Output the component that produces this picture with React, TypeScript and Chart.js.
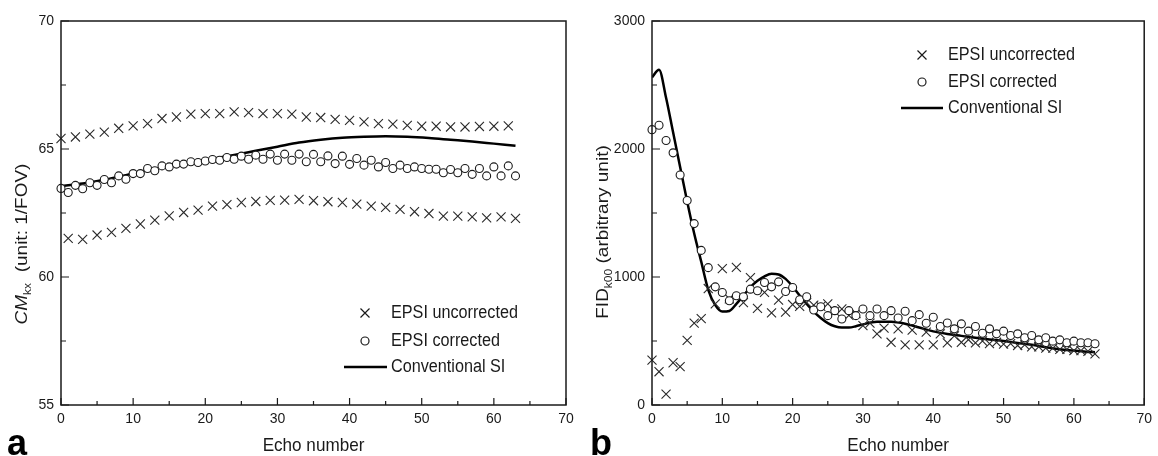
import React, { useEffect, useRef } from "react";
import { Chart, registerables } from "chart.js";

Chart.register(...registerables);

// ---------- data ----------
const echoNumbers = [
  0, 1, 2, 3, 4, 5, 6, 7, 8, 9, 10, 11, 12, 13, 14, 15, 16, 17, 18, 19, 20, 21,
  22, 23, 24, 25, 26, 27, 28, 29, 30, 31, 32, 33, 34, 35, 36, 37, 38, 39, 40, 41,
  42, 43, 44, 45, 46, 47, 48, 49, 50, 51, 52, 53, 54, 55, 56, 57, 58, 59, 60, 61,
  62, 63,
];

// panel a: CM_kx
const cmUncorrected = [
  65.41, 61.51, 65.47, 61.47, 65.58, 61.64, 65.66, 61.74, 65.81, 61.9, 65.9,
  62.07, 65.99, 62.22, 66.19, 62.39, 66.25, 62.52, 66.36, 62.61, 66.38, 62.77,
  66.38, 62.83, 66.45, 62.91, 66.42, 62.95, 66.38, 62.99, 66.38, 63.0, 66.36,
  63.03, 66.25, 62.98, 66.23, 62.94, 66.16, 62.91, 66.12, 62.85, 66.06, 62.77,
  65.99, 62.72, 65.97, 62.64, 65.92, 62.55, 65.89, 62.48, 65.89, 62.38, 65.86,
  62.38, 65.86, 62.35, 65.88, 62.31, 65.89, 62.35, 65.9, 62.29,
];
const cmCorrected = [
  63.46, 63.3, 63.58, 63.45, 63.68, 63.58, 63.81, 63.68, 63.95, 63.82, 64.04,
  64.04, 64.24, 64.15, 64.34, 64.3, 64.41, 64.41, 64.5, 64.47, 64.53, 64.59,
  64.56, 64.67, 64.6, 64.72, 64.6, 64.76, 64.6, 64.8, 64.56, 64.8, 64.56, 64.8,
  64.5, 64.79, 64.5, 64.73, 64.43, 64.72, 64.4, 64.63, 64.37, 64.56, 64.3,
  64.47, 64.24, 64.37, 64.24, 64.3, 64.24, 64.21, 64.21, 64.07, 64.2, 64.07,
  64.24, 64.01, 64.24, 63.95, 64.3, 63.95, 64.34, 63.95,
];
const cmConvEchoes = [0, 3, 6, 9, 12, 15, 18, 21, 24, 27, 30, 33, 36, 39, 42, 45, 48, 51, 54, 57, 60, 63];
const cmConvValues = [
  63.55, 63.65, 63.8, 63.98, 64.17, 64.33, 64.47, 64.62, 64.77, 64.93, 65.09,
  65.25, 65.36, 65.44, 65.48, 65.5, 65.48, 65.43, 65.36, 65.29, 65.21, 65.13,
];

// panel b: FID_k00
const fidUncorrected = [
  350, 260, 85, 330, 300, 505, 640, 675, 910, 790, 1065, 830, 1075, 800, 995,
  755, 880, 720, 820, 725, 785, 770, 800, 780, 770, 790, 730, 750, 700, 715,
  620, 640, 555, 600, 490, 595, 470, 585, 470, 570, 470, 555, 485, 540, 490,
  510, 485, 500, 480, 490, 475, 480, 465, 470, 455, 455, 445, 445, 435, 435,
  425, 425, 420, 400,
];
const fidCorrected = [
  2151, 2185, 2066, 1970, 1797, 1598, 1417, 1208, 1073, 923, 879, 815, 853, 846,
  905, 892, 957, 923, 962, 887, 918, 822, 846, 742, 768, 698, 737, 672, 737,
  698, 750, 698, 750, 698, 737, 680, 732, 659, 706, 639, 685, 613, 641, 595,
  634, 577, 613, 561, 595, 556, 577, 543, 556, 525, 543, 509, 525, 499, 509,
  486, 499, 486, 486, 478,
];
const fidConvEchoes = [
  0, 1, 2, 3, 4, 5, 6, 7, 8, 9, 10, 11, 12, 13, 14, 15, 16, 17, 18, 19, 20, 21,
  22, 23, 24, 25, 26, 27, 28, 29, 30, 32, 34, 36, 38, 40, 42, 44, 46, 48, 50,
  52, 54, 56, 58, 60, 62, 63,
];
const fidConvValues = [
  2560, 2620, 2400, 2130, 1860, 1590, 1340, 1120, 900, 780, 730, 735, 790, 855,
  920, 970, 1005, 1025, 1020, 985, 925, 855, 790, 730, 680, 640, 615, 605, 605,
  615, 630, 650, 650, 635, 605, 575, 555, 540, 525, 512, 500, 485, 470, 452,
  435, 425, 415, 413,
];

const echoTicks = [0, 10, 20, 30, 40, 50, 60, 70];
const cmTicks = [55, 60, 65, 70];
const fidTicks = [0, 1000, 2000, 3000];
const legendLabels = ["EPSI uncorrected", "EPSI corrected", "Conventional SI"];
const xTitle = "Echo number";

// ---------- styling ----------
const INK = "#1a1a1a";
const FONT = '"Liberation Sans", Arial, Helvetica, sans-serif';
const SX = 0.9; // horizontal squeeze of the scanned figure's lettering

const midpoints = (arr: number[]) => arr.slice(1).map((v, i) => (v + arr[i]) / 2);
const toXY = (xs: number[], ys: number[]) => xs.map((x, i) => ({ x, y: ys[i] }));

type Part = { text: string; italic?: boolean; sub?: boolean };

interface Decor {
  yTicks: number[];
  yTitle: Part[];
  yTitleX: number;
  yTitleY: number;
  letter: string;
  letterX: number;
  legend: { symX: number; textX: number; ys: number[]; lineX0: number; lineX1: number };
}

function squeezedText(ctx: CanvasRenderingContext2D, text: string, x: number, y: number, font: string, align: CanvasTextAlign) {
  ctx.save();
  ctx.translate(x, y);
  ctx.scale(SX, 1);
  ctx.font = font;
  ctx.textAlign = align;
  ctx.textBaseline = "middle";
  ctx.fillStyle = INK;
  ctx.fillText(text, 0, 0);
  ctx.restore();
}

function makeDecorPlugin(d: Decor) {
  return {
    id: "decor",
    afterDraw(chart: any) {
      const { ctx, chartArea: a, scales } = chart;
      const xs = scales.x;
      const ys = scales.y;
      ctx.save();
      // frame
      ctx.strokeStyle = INK;
      ctx.lineWidth = 1.5;
      ctx.strokeRect(a.left, a.top, a.right - a.left, a.bottom - a.top);
      // inward ticks
      ctx.beginPath();
      ctx.lineWidth = 1.2;
      for (const v of echoTicks) {
        const p = xs.getPixelForValue(v);
        ctx.moveTo(p, a.bottom);
        ctx.lineTo(p, a.bottom - 7);
      }
      for (const v of midpoints(echoTicks)) {
        const p = xs.getPixelForValue(v);
        ctx.moveTo(p, a.bottom);
        ctx.lineTo(p, a.bottom - 4);
      }
      for (const v of d.yTicks) {
        const p = ys.getPixelForValue(v);
        ctx.moveTo(a.left, p);
        ctx.lineTo(a.left + 8, p);
      }
      for (const v of midpoints(d.yTicks)) {
        const p = ys.getPixelForValue(v);
        ctx.moveTo(a.left, p);
        ctx.lineTo(a.left + 5, p);
      }
      ctx.stroke();

      // x title
      squeezedText(ctx, xTitle, (a.left + a.right) / 2, 446, `19px ${FONT}`, "center");

      // y title with italic / subscript parts
      const mainSize = 19;
      const subSize = 12;
      const fontFor = (p: Part) =>
        `${p.italic ? "italic " : ""}${p.sub ? subSize : mainSize}px ${FONT}`;
      let total = 0;
      const widths = d.yTitle.map((p) => {
        ctx.font = fontFor(p);
        const w = ctx.measureText(p.text).width;
        total += w;
        return w;
      });
      ctx.save();
      ctx.translate(d.yTitleX, d.yTitleY);
      ctx.scale(SX, 1);
      ctx.rotate(-Math.PI / 2);
      ctx.fillStyle = INK;
      ctx.textAlign = "left";
      ctx.textBaseline = "alphabetic";
      let cx = -total / 2;
      d.yTitle.forEach((p, i) => {
        ctx.font = fontFor(p);
        ctx.fillText(p.text, cx, p.sub ? 11 : 7);
        cx += widths[i];
      });
      ctx.restore();

      // panel letter
      ctx.save();
      ctx.font = `bold 36px ${FONT}`;
      ctx.fillStyle = "#000";
      ctx.textAlign = "left";
      ctx.textBaseline = "alphabetic";
      ctx.fillText(d.letter, d.letterX, 455);
      ctx.restore();

      // legend
      const L = d.legend;
      ctx.strokeStyle = INK;
      ctx.lineWidth = 1.2;
      const h = 4.5;
      ctx.beginPath();
      ctx.moveTo(L.symX - h, L.ys[0] - h);
      ctx.lineTo(L.symX + h, L.ys[0] + h);
      ctx.moveTo(L.symX + h, L.ys[0] - h);
      ctx.lineTo(L.symX - h, L.ys[0] + h);
      ctx.stroke();
      ctx.beginPath();
      ctx.arc(L.symX, L.ys[1], 4, 0, Math.PI * 2);
      ctx.fillStyle = "#fff";
      ctx.fill();
      ctx.stroke();
      ctx.beginPath();
      ctx.lineWidth = 2.5;
      ctx.strokeStyle = "#000";
      ctx.moveTo(L.lineX0, L.ys[2]);
      ctx.lineTo(L.lineX1, L.ys[2]);
      ctx.stroke();
      legendLabels.forEach((t, i) =>
        squeezedText(ctx, t, L.textX, L.ys[i], `18px ${FONT}`, "left")
      );
      ctx.restore();
    },
  };
}

interface PanelProps {
  width: number;
  left: number;
  uncorrected: number[];
  corrected: number[];
  convEchoes: number[];
  convValues: number[];
  yMin: number;
  yMax: number;
  yStep: number;
  yAxisWidth: number;
  rightPad: number;
  decor: Decor;
}

function Panel(props: PanelProps) {
  const ref = useRef<HTMLCanvasElement | null>(null);
  useEffect(() => {
    if (!ref.current) return;
    const chart = new Chart(ref.current, {
      type: "scatter",
      data: {
        datasets: [
          {
            label: legendLabels[1],
            data: toXY(echoNumbers, props.corrected),
            pointStyle: "circle",
            pointRadius: 4,
            pointBackgroundColor: "#fff",
            pointBorderColor: INK,
            pointBorderWidth: 1.1,
            clip: false as any,
            order: 0,
          },
          {
            label: legendLabels[0],
            data: toXY(echoNumbers, props.uncorrected),
            pointStyle: "crossRot",
            pointRadius: 6.4,
            pointBorderColor: "#2a2a2a",
            pointBorderWidth: 1.1,
            clip: false as any,
            order: 1,
          },
          {
            label: legendLabels[2],
            data: toXY(props.convEchoes, props.convValues),
            showLine: true,
            pointRadius: 0,
            borderColor: "#000",
            borderWidth: 2.5,
            cubicInterpolationMode: "monotone",
            order: 2,
          } as any,
        ],
      },
      options: {
        animation: false,
        responsive: false,
        devicePixelRatio: 1,
        events: [],
        layout: { padding: { left: 0, top: 21, right: props.rightPad, bottom: 0 } },
        plugins: { legend: { display: false }, tooltip: { enabled: false } },
        scales: {
          x: {
            type: "linear",
            min: 0,
            max: 70,
            grid: { display: false, drawTicks: false },
            border: { display: false },
            ticks: {
              stepSize: 10,
              maxRotation: 0,
              autoSkip: false,
              padding: 6,
              color: INK,
              font: { family: FONT, size: 14 },
              callback: (v: any) => String(v),
            },
            afterFit: (s: any) => {
              s.height = 51;
            },
          },
          y: {
            type: "linear",
            min: props.yMin,
            max: props.yMax,
            grid: { display: false, drawTicks: false },
            border: { display: false },
            ticks: {
              stepSize: props.yStep,
              padding: 7,
              color: INK,
              font: { family: FONT, size: 14 },
              callback: (v: any) => String(v),
            },
            afterFit: (s: any) => {
              s.width = props.yAxisWidth;
            },
          },
        },
      },
      plugins: [makeDecorPlugin(props.decor)],
    } as any);
    return () => chart.destroy();
  }, []);
  return (
    <canvas
      ref={ref}
      width={props.width}
      height={456}
      style={{ position: "absolute", left: props.left, top: 0, width: props.width, height: 456 }}
    />
  );
}

export default function App() {
  return (
    <div style={{ position: "absolute", left: 0, top: 0, width: 1158, height: 456, background: "#fff" }}>
      <Panel
        width={580}
        left={0}
        uncorrected={cmUncorrected}
        corrected={cmCorrected}
        convEchoes={cmConvEchoes}
        convValues={cmConvValues}
        yMin={55}
        yMax={70}
        yStep={5}
        yAxisWidth={61}
        rightPad={14}
        decor={{
          yTicks: cmTicks,
          yTitle: [
            { text: "CM", italic: true },
            { text: "kx", sub: true },
            { text: "  (unit: 1/FOV)" },
          ],
          yTitleX: 21,
          yTitleY: 244,
          letter: "a",
          letterX: 7,
          legend: { symX: 365, textX: 391, ys: [313, 341, 367], lineX0: 344, lineX1: 387 },
        }}
      />
      <Panel
        width={578}
        left={580}
        uncorrected={fidUncorrected}
        corrected={fidCorrected}
        convEchoes={fidConvEchoes}
        convValues={fidConvValues}
        yMin={0}
        yMax={3000}
        yStep={1000}
        yAxisWidth={72}
        rightPad={9}
        decor={{
          yTicks: fidTicks,
          yTitle: [
            { text: "FID" },
            { text: "k00", sub: true },
            { text: " (arbitrary unit)" },
          ],
          yTitleX: 22,
          yTitleY: 232,
          letter: "b",
          letterX: 10,
          legend: { symX: 342, textX: 368, ys: [55, 82, 108], lineX0: 321, lineX1: 363 },
        }}
      />
    </div>
  );
}
